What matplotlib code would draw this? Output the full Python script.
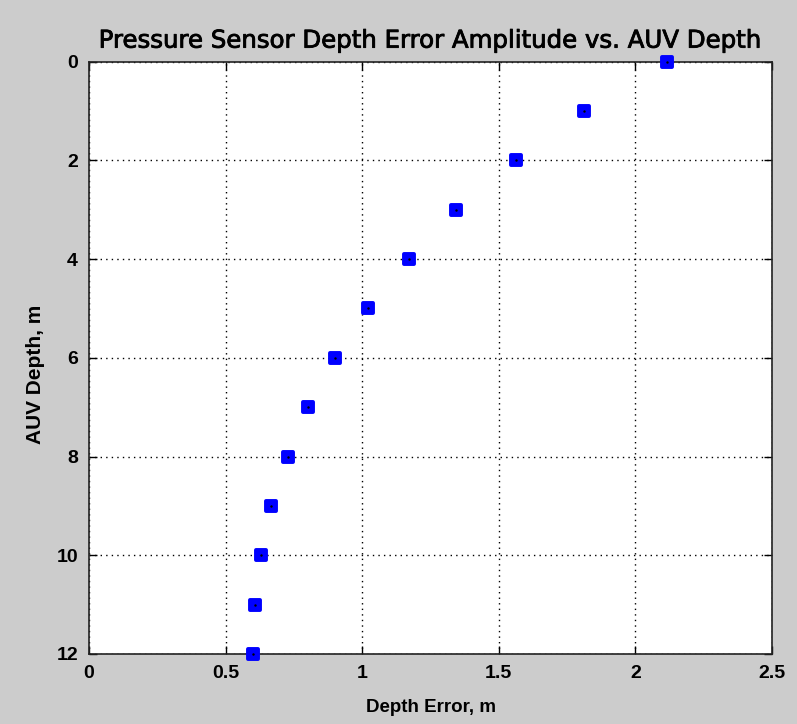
#!/usr/bin/env python3
"""Pressure sensor depth error amplitude against AUV depth."""

import matplotlib
matplotlib.use('Agg')
import matplotlib.pyplot as plt
import matplotlib.patheffects as pe
from matplotlib.markers import MarkerStyle

# values
auv_depth = [0, 1, 2, 3, 4, 5, 6, 7, 8, 9, 10, 11, 12]
depth_error = [2.117, 1.813, 1.561, 1.345, 1.170, 1.020, 0.902,
               0.801, 0.728, 0.667, 0.628, 0.606, 0.600]

x_ticks = [0, 0.5, 1, 1.5, 2, 2.5]
x_tick_labels = ['0', '0.5', '1', '1.5', '2', '2.5']
y_ticks = [0, 2, 4, 6, 8, 10, 12]

plt.rcParams['font.family'] = ['Liberation Sans', 'DejaVu Sans']

fig = plt.figure(figsize=(7.97, 7.24), dpi=100, facecolor='#cccccc')
ax = fig.add_axes([0.1117, 0.0967, 0.857, 0.8183])
ax.set_facecolor('white')

# blue squares (rounded corners) with a tiny dot in the middle
square = MarkerStyle('s', joinstyle='round')
ax.plot(depth_error, auv_depth, linestyle='none', marker=square, markersize=7,
        markerfacecolor='#0000ff', markeredgecolor='#0000ff',
        markeredgewidth=2.8, clip_on=False, zorder=3)
ax.plot(depth_error, auv_depth, linestyle='none', marker='.', markersize=1.5,
        color='black', clip_on=False, zorder=4)

ax.set_xlim(0, 2.5)
ax.set_ylim(12, 0)
ax.set_xticks(x_ticks)
ax.set_xticklabels(x_tick_labels)
ax.set_yticks(y_ticks)

ax.grid(True, color='black', linestyle=(0, (1, 3)), linewidth=1.0)
ax.set_axisbelow(True)
ax.tick_params(direction='in', length=6, width=1, top=True, right=True,
               labelsize=14, pad=8)
for lab in ax.get_xticklabels() + ax.get_yticklabels():
    lab.set_fontweight('bold')
for sp in ax.spines.values():
    sp.set_linewidth(1.2)
    sp.set_color('#222222')

title = ax.set_title('Pressure Sensor Depth Error Amplitude vs. AUV Depth',
                     family='DejaVu Sans', fontsize=17.6, pad=10)
title.set_path_effects([pe.withStroke(linewidth=0.6, foreground='black')])
ax.set_xlabel('Depth Error, m', fontweight='bold', fontsize=13.5, labelpad=12)
ax.set_ylabel('AUV Depth, m', fontweight='bold', fontsize=15)
ax.yaxis.set_label_coords(-0.065, 0.472)

fig.savefig('out.png', dpi=100, facecolor=fig.get_facecolor())
plt.close(fig)
